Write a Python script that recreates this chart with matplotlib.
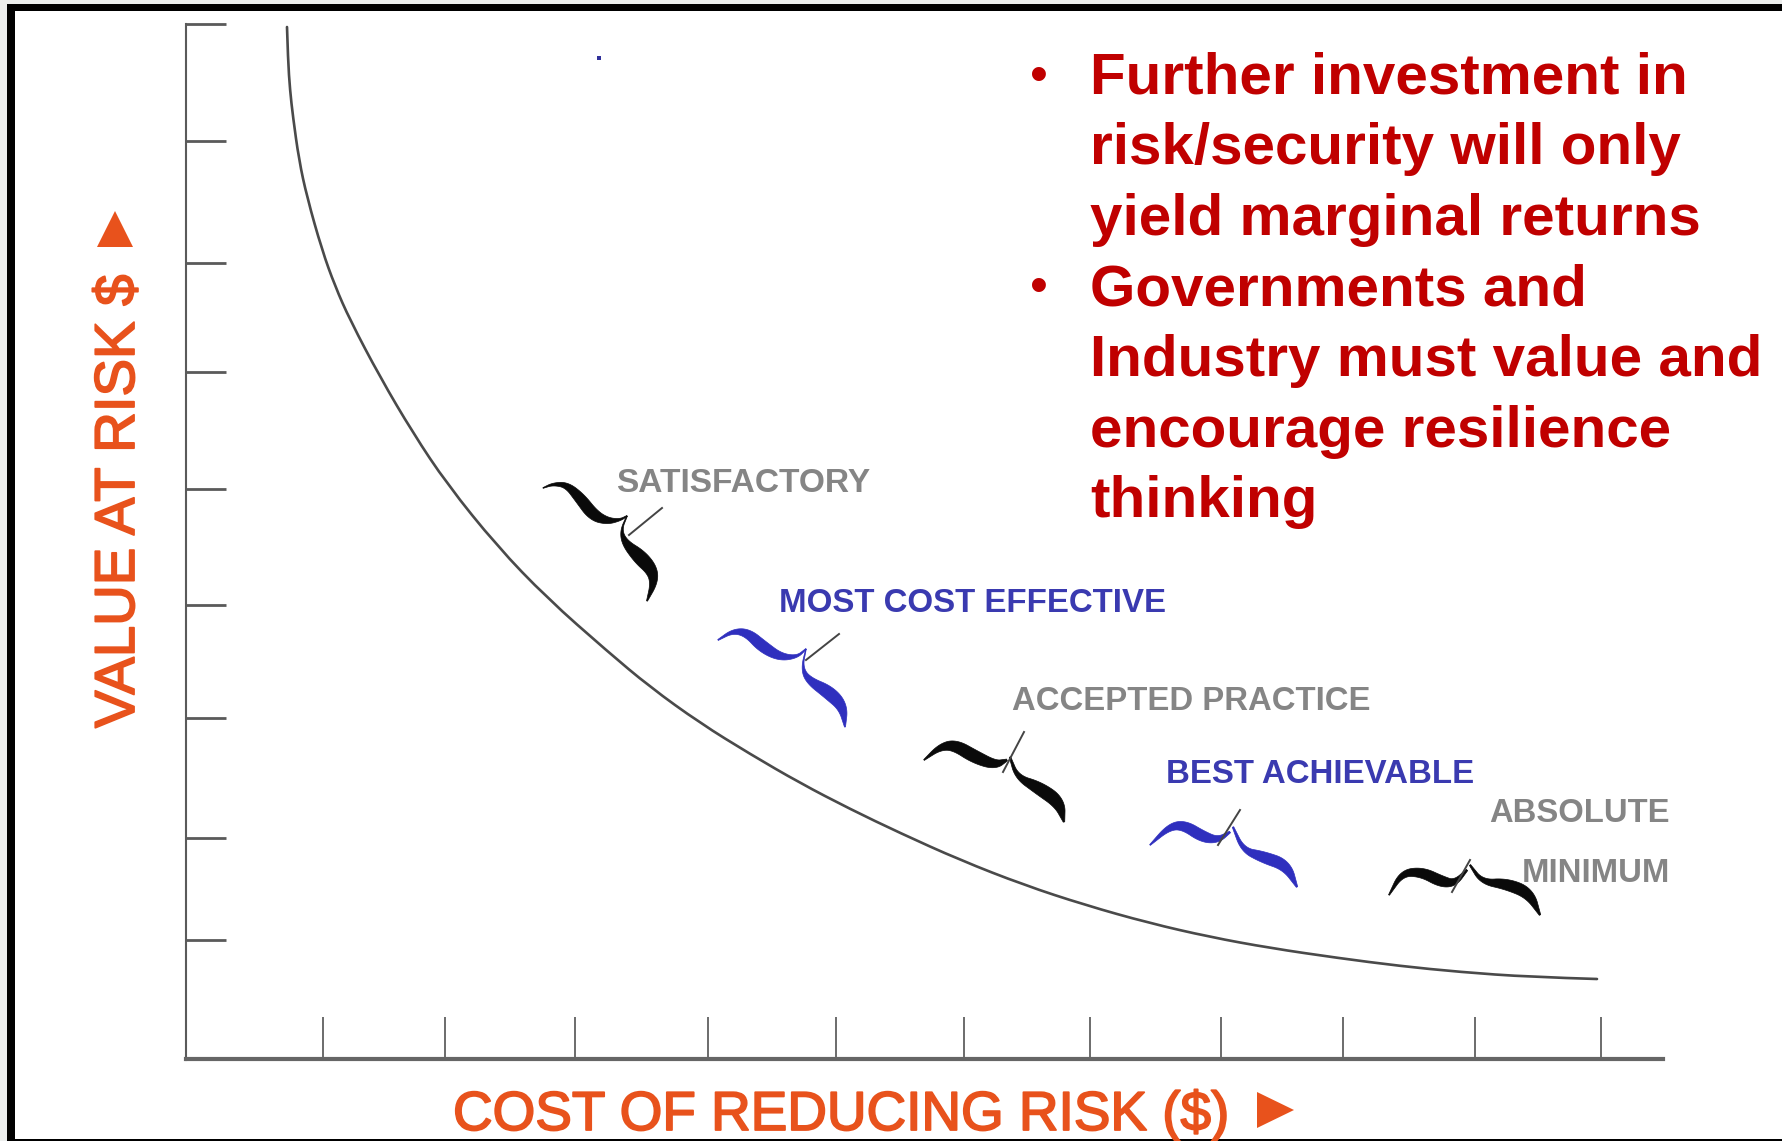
"""Cost of reducing risk against value at risk, with the diminishing-returns curve."""

import numpy as np
import matplotlib
matplotlib.use('Agg')
import matplotlib.pyplot as plt
import matplotlib.patheffects as pe
from matplotlib.patches import Rectangle, Polygon, PathPatch
from matplotlib.path import Path

matplotlib.rcParams.update({
    'font.family': ['Liberation Sans', 'DejaVu Sans'],
    'figure.dpi': 100,
})

C_ORANGE = '#E8521C'
C_RED = '#C00000'
C_GRAY = '#858585'
C_BLUE = '#3A3AB0'
C_BRACE_BLUE = '#2F2FBE'
C_AXIS = '#5A5A5A'

# Axis tick positions
X_TICKS = [323, 445, 575, 708, 836, 964, 1090, 1221, 1343, 1475, 1601]
Y_TICKS = [24, 141, 263, 372, 489, 605, 718, 838, 940]

# Curve, read along its length
CURVE_X = [287, 288, 290, 293, 299, 307, 322, 335, 350, 380, 413, 447, 497, 547, 607,
           650, 700, 750, 800, 850, 900, 960, 1024, 1085, 1149, 1210, 1270, 1338,
           1400, 1460, 1530, 1597]
CURVE_Y = [27, 60, 90, 117, 160, 197, 250, 286, 320, 377, 433, 484, 546, 598, 651,
           687, 723, 754, 783, 809, 833, 860, 885, 905, 923, 937, 948, 958,
           966, 972, 977, 979]

# Brace outlines: centre line as (x, y, thickness), one list per stroke
BRACES = [
    dict(color='#0A0A0A', leader=[(629, 535), (662, 508)], strokes=[
        [(543, 488, .7), (553, 484, 2.5), (567, 485, 6), (580, 498, 11), (593, 515, 12),
         (607, 521, 7), (620, 520, 2), (627, 516, 1)],
        [(627, 516, .8), (621, 530, 1.5), (625, 543, 7), (640, 557, 15), (652, 570, 12),
         (654, 583, 7), (647, 601, 1)]]),
    dict(color=C_BRACE_BLUE, leader=[(806, 660), (839, 634)], strokes=[
        [(718, 640, 1), (733, 631, 4), (748, 633, 9), (763, 647, 12), (780, 657, 8),
         (797, 657, 2.5), (806, 649, 1)],
        [(806, 649, .6), (802, 667, 1.5), (808, 680, 7), (830, 693, 14), (843, 707, 10),
         (845, 727, 1)]]),
    dict(color='#0A0A0A', leader=[(1024, 732), (1003, 772)], strokes=[
        [(924, 760, 1), (940, 747, 6), (955, 745, 11.5), (975, 757, 13), (995, 765, 9),
         (1007, 760, 2)],
        [(1010, 757, 1.5), (1017, 777, 4.5), (1039, 788, 13), (1059, 802, 13), (1064, 822, 1.5)]]),
    dict(color=C_BRACE_BLUE, leader=[(1240, 810), (1218, 845)], strokes=[
        [(1150, 845, 1), (1169, 827, 6), (1184, 825, 10), (1203, 837, 11.5), (1218, 840, 6),
         (1230, 832, 1.8)],
        [(1233, 827, 1.5), (1243, 850, 4.5), (1263, 857, 11.5), (1286, 865, 11.5), (1297, 887, 1.5)]]),
    dict(color='#0A0A0A', leader=[(1470, 860), (1452, 892)], strokes=[
        [(1389, 895, 1), (1402, 873, 6), (1422, 872, 10), (1442, 882, 11.5), (1455, 883, 6),
         (1467, 870, 1.8)],
        [(1470, 865, 1.5), (1482, 882, 4.5), (1507, 884, 11.5), (1529, 893, 11.5), (1540, 915, 1.5)]]),
]

# Labels by the braces: text, left edge, baseline, colour, size
BRACE_LABELS = [
    ('SATISFACTORY', 616, 492, C_GRAY, 24.1),
    ('MOST COST EFFECTIVE', 779, 612, C_BLUE, 23.8),
    ('ACCEPTED PRACTICE', 1012, 710, C_GRAY, 23.7),
    ('BEST ACHIEVABLE', 1166, 783, C_BLUE, 23.8),
    ('ABSOLUTE', 1489, 822, C_GRAY, 23.6),
    ('MINIMUM', 1522, 882, C_GRAY, 23.7),
]

BULLET_LINES = [
    'Further investment in', 'risk/security will only', 'yield marginal returns',
    'Governments and', 'Industry must value and', 'encourage resilience', 'thinking',
]
BULLET_BASELINES = [94, 164, 235, 305, 376, 447, 517]
BULLET_ROWS = [0, 3]


def chaikin(pts, rounds=4):
    """Round off a polyline by corner cutting, keeping the end points."""
    pts = np.asarray(pts, dtype=float)
    for _ in range(rounds):
        a = pts[:-1]
        b = pts[1:]
        mid = np.empty((2 * len(a), pts.shape[1]))
        mid[0::2] = 0.75 * a + 0.25 * b
        mid[1::2] = 0.25 * a + 0.75 * b
        pts = np.vstack([pts[:1], mid, pts[-1:]])
    return pts


def draw_stroke(ax, stroke, color):
    pts = chaikin(stroke)
    d = np.gradient(pts[:, :2], axis=0)
    n = np.column_stack([-d[:, 1], d[:, 0]])
    n /= np.linalg.norm(n, axis=1, keepdims=True)
    half = pts[:, 2:] / 2
    outline = np.vstack([pts[:, :2] + n * half, (pts[:, :2] - n * half)[::-1]])
    ax.add_patch(Polygon(outline, closed=True, fc=color, ec=color, lw=0.5, zorder=4))


def smooth_path(xs, ys):
    """Quadratic segments with the read points as controls, joined at their midpoints."""
    p = np.column_stack([xs, ys]).astype(float)
    verts = [p[0]]
    codes = [Path.MOVETO]
    for i in range(1, len(p) - 1):
        end = p[i + 1] if i == len(p) - 2 else (p[i] + p[i + 1]) / 2
        verts += [p[i], end]
        codes += [Path.CURVE3, Path.CURVE3]
    return Path(verts, codes)


def main():
    fig = plt.figure(figsize=(17.83, 11.41), facecolor='#ECEEED')
    ax = fig.add_axes([0, 0, 1, 1])
    ax.set_xlim(0, 1783)
    ax.set_ylim(1141, 0)
    ax.patch.set_visible(False)

    # ── Slide frame ──
    ax.add_patch(Rectangle((7, 4), 1776, 1137, fc='black', ec='none', zorder=0))
    ax.add_patch(Rectangle((15, 11), 1768, 1127.5, fc='white', ec='none', zorder=0))

    # ── Axes ──
    for side in ('top', 'right'):
        ax.spines[side].set_visible(False)
    ax.spines['left'].set_position(('data', 186))
    ax.spines['left'].set_bounds(24, 1060)
    ax.spines['left'].set_color(C_AXIS)
    ax.spines['left'].set_linewidth(1.5)
    ax.spines['bottom'].set_position(('data', 1059))
    ax.spines['bottom'].set_bounds(186, 1663)
    ax.spines['bottom'].set_color('#666666')
    ax.spines['bottom'].set_linewidth(3.0)
    ax.set_xticks(X_TICKS)
    ax.set_yticks(Y_TICKS)
    ax.tick_params(axis='x', direction='in', length=30, width=1.1, color='#444444',
                   labelbottom=False)
    ax.tick_params(axis='y', direction='in', length=29, width=2.0, color=C_AXIS,
                   labelleft=False)

    # ── Curve ──
    ax.add_patch(PathPatch(smooth_path(CURVE_X, CURVE_Y), fc='none', ec='#4A4A4A',
                           lw=1.9, capstyle='round', zorder=3))

    # ── Braces with their labels ──
    for brace in BRACES:
        for stroke in brace['strokes']:
            draw_stroke(ax, stroke, brace['color'])
        (x0, y0), (x1, y1) = brace['leader']
        ax.plot([x0, x1], [y0, y1], color='#444444', lw=1.4, zorder=4)
    for text, x, y, color, size in BRACE_LABELS:
        ax.text(x, y, text, color=color, fontsize=size, fontweight='bold',
                ha='left', va='baseline', zorder=5)

    ax.plot(599, 58, 's', color='#30309A', ms=2.5, mew=0, zorder=3)

    # ── Axis titles ──
    heavy = [pe.withStroke(linewidth=1.3, foreground=C_ORANGE)]
    ax.text(453, 1130, 'COST OF REDUCING RISK ($)', color=C_ORANGE, fontsize=39.5,
            ha='left', va='baseline', path_effects=heavy, zorder=5)
    ax.add_patch(Polygon([(1257, 1092), (1294, 1110), (1257, 1128)], closed=True,
                         fc=C_ORANGE, ec='none', zorder=5))
    ax.text(134, 728, 'VALUE AT RISK $', color=C_ORANGE, fontsize=40.5, rotation=90,
            rotation_mode='anchor', ha='left', va='baseline', path_effects=heavy, zorder=5)
    ax.add_patch(Polygon([(97, 247), (133, 247), (115, 211)], closed=True,
                         fc=C_ORANGE, ec='none', zorder=5))

    # ── Bullet text ──
    for i, (line, y) in enumerate(zip(BULLET_LINES, BULLET_BASELINES)):
        ax.text(1090, y, line, color=C_RED, fontsize=42, fontweight='bold',
                ha='left', va='baseline', zorder=6)
        if i in BULLET_ROWS:
            ax.text(1030, y - 3, '•', color=C_RED, fontsize=37,
                    ha='left', va='baseline', zorder=6)

    fig.savefig('out.png', dpi=100, facecolor=fig.get_facecolor())


if __name__ == '__main__':
    main()
